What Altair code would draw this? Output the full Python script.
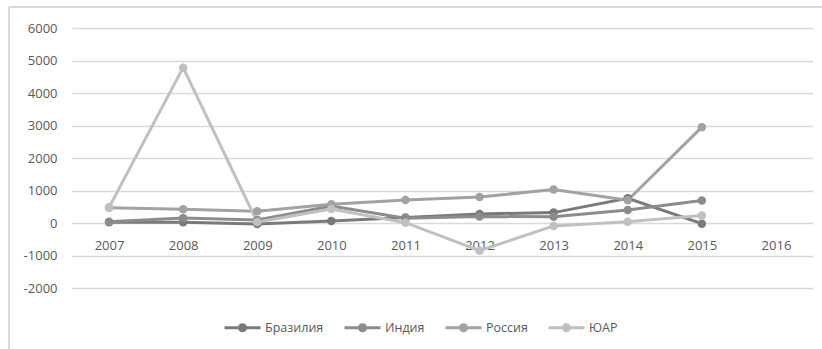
import altair as alt
import pandas as pd

# Years on the category axis (2016 has no values yet)
years = ["2007", "2008", "2009", "2010", "2011", "2012", "2013", "2014", "2015", "2016"]
data_years = years[:9]

countries = ["Бразилия", "Индия", "Россия", "ЮАР"]
brazil = [20, 20, -30, 60, 170, 280, 320, 760, -20]
india = [40, 150, 90, 520, 150, 200, 190, 400, 690]
russia = [470, 420, 360, 580, 710, 800, 1030, 700, 2950]
south_africa = [480, 4780, 30, 430, 10, -850, -90, 40, 230]

y_ticks = [-2000, -1000, 0, 1000, 2000, 3000, 4000, 5000, 6000]
colors = ["#7a7a7a", "#8c8c8c", "#a2a2a2", "#c0c0c0"]

rows = []
for name, vals in zip(countries, [brazil, india, russia, south_africa]):
    for yr, v in zip(data_years, vals):
        rows.append({"Год": yr, "Значение": v, "Страна": name})
df = pd.DataFrame(rows)

W, H = 741, 260
FONT = "Open Sans"
TEXT = "#595959"
GRID = "#d9d9d9"

# Legend glyph: a line segment with a solid marker (two concentric stroked rings)
def ring(r):
    return f"M{-r},0A{r},{r} 0 1,1 {r},0A{r},{r} 0 1,1 {-r},0"

legend_glyph = "M-1,0H1 " + ring(0.085) + " " + ring(0.17)

x_enc = alt.X(
    "Год:O",
    scale=alt.Scale(type="point", domain=years, padding=0.5),
    axis=alt.Axis(
        title=None, labelAngle=0, domain=False, ticks=False, grid=False,
        offset=-65, labelPadding=16, labelFontSize=13, labelColor=TEXT, labelFont=FONT,
    ),
)
y_enc = alt.Y(
    "Значение:Q",
    scale=alt.Scale(domain=[-2000, 6000], nice=False, zero=False),
    axis=alt.Axis(
        title=None, values=y_ticks, domain=False, ticks=False, grid=True,
        gridColor=GRID, gridWidth=1.5, labelPadding=15, labelFontSize=13,
        labelColor=TEXT, labelFont=FONT,
        labelExpr="datum.value < 0 ? '-' + abs(datum.value) : '' + datum.value",
    ),
)
color_enc = alt.Color(
    "Страна:N",
    scale=alt.Scale(domain=countries, range=colors),
    legend=alt.Legend(
        title=None, orient="none", direction="horizontal",
        legendX=151, legendY=280,
        symbolType=legend_glyph, symbolSize=1296, symbolStrokeWidth=3,
        symbolFillColor="transparent",
        labelFontSize=12.5, labelColor=TEXT, labelFont=FONT,
        labelOffset=3, columnPadding=14,
    ),
)

lines = alt.Chart(df).mark_line(strokeWidth=3).encode(x=x_enc, y=y_enc, color=color_enc)
points = alt.Chart(df).mark_circle(size=72, opacity=1).encode(
    x=x_enc, y=y_enc,
    color=alt.Color("Страна:N", scale=alt.Scale(domain=countries, range=colors), legend=None),
)

# Light frame on the left and top edges of the chart
frame_src = pd.DataFrame({"k": [0]})
left_edge = alt.Chart(frame_src).mark_rule(color=GRID, strokeWidth=2).encode(
    x=alt.value(-63), y=alt.value(-21), y2=alt.value(330)
)
top_edge = alt.Chart(frame_src).mark_rule(color=GRID, strokeWidth=2).encode(
    x=alt.value(-63), x2=alt.value(760), y=alt.value(-21)
)

chart = (
    alt.layer(left_edge, top_edge, lines, points)
    .properties(
        width=W, height=H,
        autosize=alt.AutoSizeParams(type="none"),
        padding={"left": 72, "top": 28, "right": 9, "bottom": 61},
        background="white",
    )
    .configure_view(stroke=None)
)

chart.save("out.html", embed_options={"renderer": "svg", "actions": False})
